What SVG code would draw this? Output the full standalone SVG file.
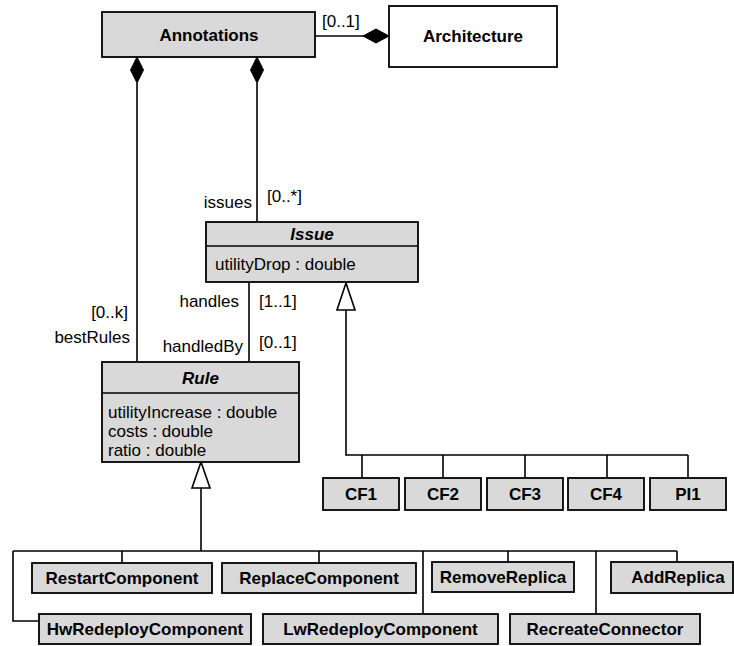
<svg xmlns="http://www.w3.org/2000/svg" width="734" height="646" viewBox="0 0 734 646">
  <defs>
    <style>
      .cls { fill: #d9d9d9; stroke: #000; stroke-width: 1.8; }
      .plain { fill: #fff; stroke: #000; stroke-width: 1.8; }
      .name { font-family: "Liberation Sans", Arial, sans-serif; font-size: 17px; font-weight: bold; text-anchor: middle; fill: #000; }
      .abs { font-style: italic; }
      .attr { font-family: "Liberation Sans", Arial, sans-serif; font-size: 17px; fill: #000; }
      .lbl { font-family: "Liberation Sans", Arial, sans-serif; font-size: 17px; fill: #000; }
      .end { text-anchor: end; }
      .edge { fill: none; stroke: #000; stroke-width: 1.6; }
      .diamond { fill: #000; stroke: #000; stroke-width: 1; }
      .tri { fill: #fff; stroke: #000; stroke-width: 1.6; }
    </style>
  </defs>
  <rect width="734" height="646" fill="#fff"/>

  <!-- connectors -->
  <g id="connectors">
    <!-- Annotations composed in Architecture -->
    <line class="edge" x1="315" y1="36" x2="364" y2="36"/>
    <polygon class="diamond" points="363,36 376,29 389,36 376,43"/>
    <text class="lbl" x="322" y="27">[0..1]</text>

    <!-- Annotations -> Rule (bestRules) -->
    <polygon class="diamond" points="137,57 143.5,70 137,83 130.5,70"/>
    <line class="edge" x1="137" y1="83" x2="137" y2="362"/>
    <text class="lbl end" x="128" y="318">[0..k]</text>
    <text class="lbl end" x="130" y="343">bestRules</text>

    <!-- Annotations -> Issue (issues) -->
    <polygon class="diamond" points="257,57 263.5,70 257,83 250.5,70"/>
    <line class="edge" x1="257" y1="83" x2="257" y2="222"/>
    <text class="lbl end" x="252" y="208">issues</text>
    <text class="lbl" x="267" y="202">[0..*]</text>

    <!-- Issue <-> Rule -->
    <line class="edge" x1="249" y1="282" x2="249" y2="362"/>
    <text class="lbl end" x="239" y="307">handles</text>
    <text class="lbl" x="259" y="307">[1..1]</text>
    <text class="lbl end" x="243" y="352">handledBy</text>
    <text class="lbl" x="259" y="348">[0..1]</text>

    <!-- Issue generalization -->
    <polygon class="tri" points="346,283 355,310 337,310"/>
    <polyline class="edge" points="346,310 346,455 688,455"/>
    <line class="edge" x1="362" y1="455" x2="362" y2="478"/>
    <line class="edge" x1="443" y1="455" x2="443" y2="478"/>
    <line class="edge" x1="525" y1="455" x2="525" y2="478"/>
    <line class="edge" x1="607" y1="455" x2="607" y2="478"/>
    <line class="edge" x1="688" y1="455" x2="688" y2="478"/>

    <!-- Rule generalization -->
    <polygon class="tri" points="201,462 210,488 192,488"/>
    <line class="edge" x1="201" y1="488" x2="201" y2="551"/>
    <line class="edge" x1="13" y1="551" x2="677" y2="551"/>
    <polyline class="edge" points="13,551 13,621 39,621"/>
    <line class="edge" x1="122" y1="551" x2="122" y2="563"/>
    <line class="edge" x1="319" y1="551" x2="319" y2="563"/>
    <line class="edge" x1="423" y1="551" x2="423" y2="614"/>
    <line class="edge" x1="508" y1="551" x2="508" y2="562"/>
    <line class="edge" x1="596" y1="551" x2="596" y2="614"/>
    <line class="edge" x1="677" y1="551" x2="677" y2="562"/>
  </g>

  <!-- classes -->
  <g id="Annotations">
    <rect class="cls" x="102" y="12" width="213" height="45"/>
    <text class="name" x="209" y="41">Annotations</text>
  </g>
  <g id="Architecture">
    <rect class="plain" x="389" y="6" width="168" height="61"/>
    <text class="name" x="473" y="42">Architecture</text>
  </g>
  <g id="Issue">
    <rect class="cls" x="206" y="222" width="212" height="60"/>
    <line class="edge" x1="206" y1="246" x2="418" y2="246"/>
    <text class="name abs" x="312" y="240">Issue</text>
    <text class="attr" x="215" y="270">utilityDrop : double</text>
  </g>
  <g id="Rule">
    <rect class="cls" x="102" y="362" width="197" height="100"/>
    <line class="edge" x1="102" y1="393" x2="299" y2="393"/>
    <text class="name abs" x="200.5" y="384">Rule</text>
    <text class="attr" x="108" y="418">utilityIncrease : double</text>
    <text class="attr" x="108" y="437">costs : double</text>
    <text class="attr" x="108" y="456">ratio : double</text>
  </g>

  <g id="CF1">
    <rect class="cls" x="323" y="478" width="76" height="32"/>
    <text class="name" x="361" y="500">CF1</text>
  </g>
  <g id="CF2">
    <rect class="cls" x="405" y="478" width="76" height="32"/>
    <text class="name" x="443" y="500">CF2</text>
  </g>
  <g id="CF3">
    <rect class="cls" x="487" y="478" width="76" height="32"/>
    <text class="name" x="525" y="500">CF3</text>
  </g>
  <g id="CF4">
    <rect class="cls" x="568" y="478" width="76" height="32"/>
    <text class="name" x="606" y="500">CF4</text>
  </g>
  <g id="PI1">
    <rect class="cls" x="650" y="478" width="76" height="32"/>
    <text class="name" x="688" y="500">PI1</text>
  </g>

  <g id="RestartComponent">
    <rect class="cls" x="32" y="563" width="180" height="30"/>
    <text class="name" x="122" y="584">RestartComponent</text>
  </g>
  <g id="ReplaceComponent">
    <rect class="cls" x="222" y="563" width="194" height="30"/>
    <text class="name" x="319" y="584">ReplaceComponent</text>
  </g>
  <g id="RemoveReplica">
    <rect class="cls" x="432" y="562" width="142" height="30"/>
    <text class="name" x="503" y="583">RemoveReplica</text>
  </g>
  <g id="AddReplica">
    <rect class="cls" x="611" y="562" width="122" height="31"/>
    <text class="name" x="678" y="583">AddReplica</text>
  </g>
  <g id="HwRedeployComponent">
    <rect class="cls" x="39" y="614" width="212" height="30"/>
    <text class="name" x="145" y="635">HwRedeployComponent</text>
  </g>
  <g id="LwRedeployComponent">
    <rect class="cls" x="263" y="614" width="235" height="30"/>
    <text class="name" x="380.5" y="635">LwRedeployComponent</text>
  </g>
  <g id="RecreateConnector">
    <rect class="cls" x="510" y="614" width="190" height="30"/>
    <text class="name" x="605" y="635">RecreateConnector</text>
  </g>
</svg>
